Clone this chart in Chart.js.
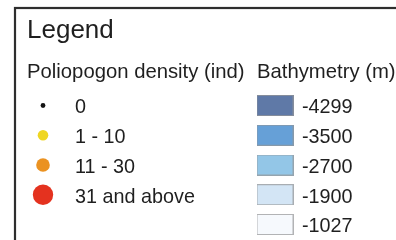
<!DOCTYPE html>
<html>
<head>
<meta charset="utf-8">
<script src="https://cdn.jsdelivr.net/npm/chart.js@4.4.1/dist/chart.umd.min.js"></script>
<style>
  html, body { margin: 0; padding: 0; background: #fff; }
  #wrap { width: 396px; height: 240px; }
</style>
</head>
<body>
<div id="wrap"><canvas id="legendChart" width="396" height="240"></canvas></div>
<script>
// --- legend classes ---
const densityLabels = ['0', '1 - 10', '11 - 30', '31 and above'];
const depthLabels = ['-4299', '-3500', '-2700', '-1900', '-1027'];

// styles
const densityColors = ['#141414', '#efd622', '#eb9221', '#e4321f'];
const densityRadius = [2.4, 5.3, 6.8, 10.2];
const depthColors = ['#5f79a7', '#66a0d7', '#93c6e7', '#d3e5f5', '#f6f9fd'];

// layout (pixels)
const W = 396, H = 240;
const rowFirst = 105.5, rowGap = 29.75;
const colDot = 43, colGap = 232;
const FONT = '"Liberation Sans", Arial, Helvetica, sans-serif';
const TEXT = '#1f1f1f';

function makeSwatch(color) {
    const c = document.createElement('canvas');
    c.width = 37; c.height = 21;
    const g = c.getContext('2d');
    g.fillStyle = color;
    g.fillRect(0, 0, 37, 21);
    g.strokeStyle = 'rgba(150,150,150,0.7)';
    g.lineWidth = 1;
    g.strokeRect(0.5, 0.5, 36, 20);
    return c;
}

const legendText = {
    id: 'legendText',
    beforeDraw(chart) {
        const ctx = chart.ctx;
        ctx.save();
        ctx.fillStyle = '#fff';
        ctx.fillRect(0, 0, W, H);
        // frame
        ctx.strokeStyle = '#2e2e2e';
        ctx.lineWidth = 2.2;
        ctx.strokeRect(15, 8, 600, 400);
        ctx.fillStyle = TEXT;
        ctx.textBaseline = 'alphabetic';
        ctx.font = '26px ' + FONT;
        ctx.fillText('Legend', 27, 38);
        ctx.font = '20.3px ' + FONT;
        ctx.fillText('Poliopogon density (ind)', 27, 78);
        ctx.fillText('Bathymetry (m)', 257, 78);
        ctx.restore();
    },
    afterDatasetsDraw(chart) {
        const ctx = chart.ctx;
        const xs = chart.scales.x, ys = chart.scales.y;
        ctx.save();
        ctx.fillStyle = TEXT;
        ctx.font = '19.8px ' + FONT;
        ctx.textBaseline = 'alphabetic';
        densityLabels.forEach((t, i) => {
            ctx.fillText(t, xs.getPixelForValue(0) + 32, ys.getPixelForValue(i) + 7.8);
        });
        depthLabels.forEach((t, i) => {
            ctx.fillText(t, xs.getPixelForValue(1) + 27, ys.getPixelForValue(i) + 7.8);
        });
        ctx.restore();
    }
};

const ctx = document.getElementById('legendChart').getContext('2d');
new Chart(ctx, {
    type: 'scatter',
    data: {
        datasets: [{
            label: 'Poliopogon density (ind)',
            data: densityLabels.map((_, i) => ({ x: 0, y: i })),
            backgroundColor: densityColors,
            borderColor: densityColors,
            borderWidth: 0,
            pointRadius: densityRadius,
            pointStyle: 'circle'
        }, {
            label: 'Bathymetry (m)',
            data: depthLabels.map((_, i) => ({ x: 1, y: i })),
            pointStyle: depthColors.map(makeSwatch),
            pointRadius: 10
        }]
    },
    options: {
        responsive: false,
        animation: false,
        events: [],
        layout: { padding: 0, autoPadding: false },
        plugins: {
            legend: { display: false },
            tooltip: { enabled: false }
        },
        scales: {
            x: {
                type: 'linear', display: false,
                min: -colDot / colGap, max: (W - colDot) / colGap
            },
            y: {
                type: 'linear', display: false, reverse: true,
                min: -rowFirst / rowGap, max: (H - rowFirst) / rowGap
            }
        }
    },
    plugins: [legendText]
});
</script>
</body>
</html>
